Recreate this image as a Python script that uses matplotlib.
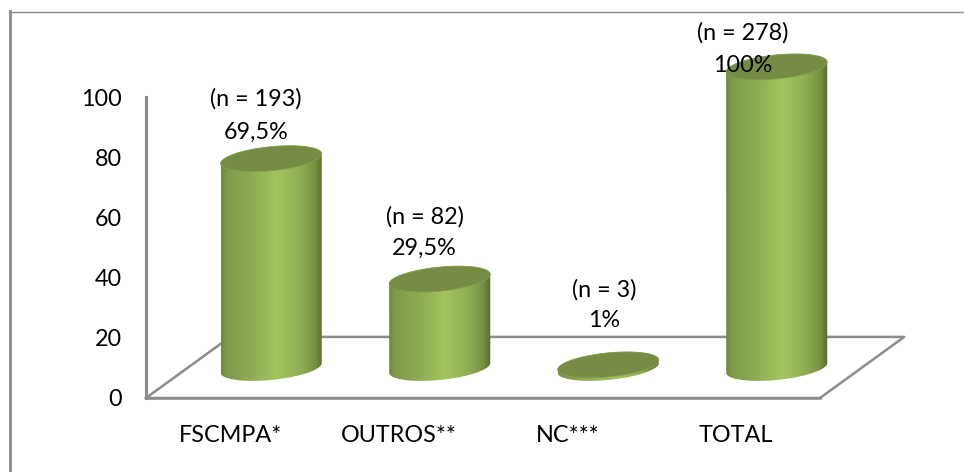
import matplotlib
matplotlib.use("Agg")
import matplotlib.pyplot as plt
import numpy as np
from matplotlib.colors import LinearSegmentedColormap
from matplotlib.lines import Line2D
from matplotlib.patches import Polygon

categorias = ["FSCMPA*", "OUTROS**", "NC***", "TOTAL"]
valores = [69.5, 29.5, 1, 100]
rotulos_n = ["(n = 193)", "(n = 82)", "(n = 3)", "(n = 278)"]
rotulos_pct = ["69,5%", "29,5%", "1%", "100%"]
ticks_y = [0, 20, 40, 60, 80, 100]

# deslocamento dos rotulos em pixels a partir do topo de cada cilindro
desloc_x = [-15, -15, -4, -34]
desloc_pct = [26, 31, 44, 1]
desloc_n = [60, 62, 75, 34]

W, H = 964, 472
CINZA = "#8c8c8c"
FONTE = "Lato"
TAM = 16.8

# piso em perspectiva, em unidades dos eixos
prof_x, prof_y = 0.5, 20.3
base_y = 10.0
centro_x = 0.243
raio_x = 0.3
inclina = 1.6
raio_y = 4.0

fig = plt.figure(figsize=(W / 100, H / 100), dpi=100, facecolor="white")
ax = fig.add_axes([146 / W, 1 - 398 / H, (820 - 146) / W, (398 - 97) / H])
ax.set_facecolor("none")

# moldura externa
fig.add_artist(Line2D([10 / W, 10 / W], [0, 1 - 11 / H], color=CINZA, lw=2))
fig.add_artist(Line2D([9 / W, 1], [1 - 11.5 / H, 1 - 11.5 / H], color=CINZA, lw=1))

gradiente = LinearSegmentedColormap.from_list("cilindro", [
    (0.0, "#6f8a3e"), (0.06, "#7f9b49"), (0.3, "#8fac54"), (0.55, "#a3c55f"),
    (0.8, "#8dab52"), (0.93, "#76903f"), (1.0, "#586b30")])
faixa = np.linspace(0, 1, 200).reshape(1, -1)

# piso
ax.plot([-0.5, 3.5, 3.5 + prof_x, prof_x - 0.5, -0.5],
        [0, 0, prof_y, prof_y, 0], color=CINZA, lw=1.8, clip_on=False, zorder=1)

t = np.linspace(0, 2 * np.pi, 121)
for i, v in enumerate(valores):
    cx = i + centro_x
    topo = base_y + v
    ex = cx + raio_x * np.cos(t)
    ey = inclina * np.cos(t) + raio_y * np.sin(t)

    # corpo do cilindro: metade de baixo da base + metade de cima do topo
    metade = t <= np.pi
    corpo = np.r_[np.c_[ex[~metade], base_y + ey[~metade]],
                  np.c_[ex[metade], topo + ey[metade]]]
    recorte = Polygon(corpo, closed=True, transform=ax.transData)
    im = ax.imshow(faixa, cmap=gradiente, aspect="auto", interpolation="bilinear",
                   extent=[cx - raio_x, cx + raio_x, base_y - 6, topo + 6], zorder=2)
    im.set_clip_path(recorte)
    im.set_clip_box(fig.bbox)

    ax.add_patch(Polygon(np.c_[ex, topo + ey], closed=True, facecolor="#768c44",
                         edgecolor="#84a04c", lw=0.6, clip_on=False, zorder=3))

    ax.annotate(rotulos_pct[i], (cx, topo), xytext=(desloc_x[i], desloc_pct[i]),
                textcoords="offset pixels", ha="center", va="center",
                fontsize=TAM, family=FONTE, color="black", zorder=4, annotation_clip=False)
    ax.annotate(rotulos_n[i], (cx, topo), xytext=(desloc_x[i], desloc_n[i]),
                textcoords="offset pixels", ha="center", va="center",
                fontsize=TAM, family=FONTE, color="black", zorder=4, annotation_clip=False)

ax.set_xlim(-0.5, 3.5)
ax.set_ylim(0, 100)
ax.set_xticks(range(len(categorias)))
ax.set_xticklabels(categorias, fontsize=TAM, family=FONTE)
ax.set_yticks(ticks_y)
ax.set_yticklabels([str(y) for y in ticks_y], fontsize=TAM, family=FONTE)
ax.tick_params(axis="x", length=0, pad=19.5)
ax.tick_params(axis="y", length=0, pad=17.5)

for lado in ["top", "right"]:
    ax.spines[lado].set_visible(False)
ax.spines["left"].set_color(CINZA)
ax.spines["left"].set_linewidth(2.2)
ax.spines["bottom"].set_color(CINZA)
ax.spines["bottom"].set_linewidth(1.8)

fig.savefig("out.png", dpi=100)
